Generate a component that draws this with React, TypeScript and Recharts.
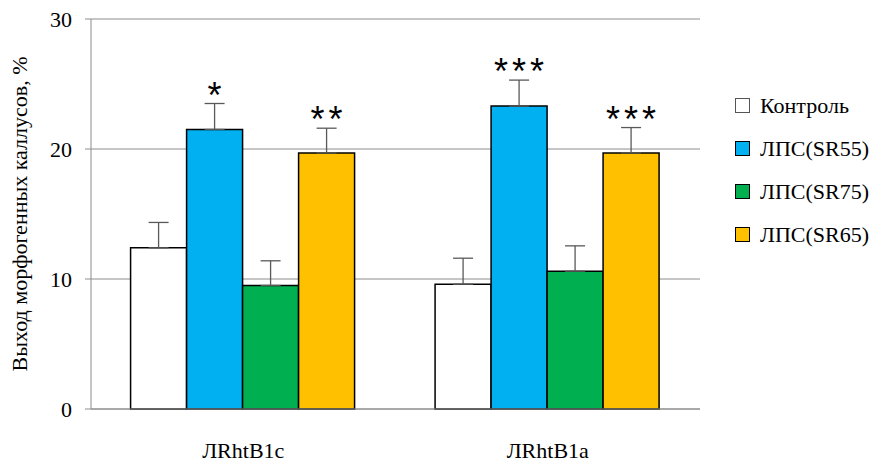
import React from "react";
import { BarChart, Bar, XAxis, YAxis, CartesianGrid, ErrorBar, LabelList, Legend } from "recharts";

const categories = ["ЛRhtB1c", "ЛRhtB1a"];
const seriesNames = ["Контроль", "ЛПС(SR55)", "ЛПС(SR75)", "ЛПС(SR65)"];
const seriesColors = ["#FFFFFF", "#00B0F0", "#00B050", "#FFC000"];
const control = [12.4, 9.6];
const controlErr = [1.95, 2.0];
const sr55 = [21.5, 23.3];
const sr55Err = [2.0, 2.0];
const sr75 = [9.5, 10.6];
const sr75Err = [1.9, 1.95];
const sr65 = [19.7, 19.7];
const sr65Err = [1.9, 1.95];
const sr55Stars = ["*", "***"];
const sr65Stars = ["**", "***"];
const yTicks = [0, 10, 20, 30];

const SERIF = "'Liberation Serif', 'Times New Roman', serif";

const data = categories.map((c, i) => ({
  name: c,
  s0: control[i],
  e0: [0, controlErr[i]],
  s1: sr55[i],
  e1: [0, sr55Err[i]],
  st1: sr55Stars[i],
  s2: sr75[i],
  e2: [0, sr75Err[i]],
  s3: sr65[i],
  e3: [0, sr65Err[i]],
  st3: sr65Stars[i],
}));

const errs = [controlErr, sr55Err, sr75Err, sr65Err];
const vals = [control, sr55, sr75, sr65];

const makeStar = (si: number) => (props: any) => {
  const { x, y, width, height, value, index } = props;
  if (!value) return null;
  const v = vals[si][index];
  const errPx = (height / v) * errs[si][index];
  const cx = x + width / 2;
  const ty = y - errPx + 4;
  return (
    <text
      x={cx + 2}
      y={ty}
      textAnchor="middle"
      fontFamily="'Liberation Sans', Arial, sans-serif"
      fontSize={36}
      letterSpacing={4}
      fill="#000"
    >
      {value}
    </text>
  );
};

const LegendContent = () => (
  <div style={{ fontFamily: SERIF, fontSize: 22, color: "#000", width: 150 }}>
    {seriesNames.map((n, i) => (
      <div key={n} style={{ display: "flex", alignItems: "center", height: 43 }}>
        <div
          style={{
            width: 13,
            height: 13,
            background: seriesColors[i],
            border: i === 0 ? "1.5px solid #555" : "1.5px solid #000",
            marginRight: 10,
            flexShrink: 0,
          }}
        />
        <span style={{ whiteSpace: "nowrap" }}>{n}</span>
      </div>
    ))}
  </div>
);

export default function App() {
  return (
    <div style={{ position: "absolute", left: 0, top: 0, width: 880, height: 462, background: "#fff" }}>
      <BarChart
        width={880}
        height={462}
        data={data}
        margin={{ top: 19, right: 30, bottom: 23, left: 0 }}
        barCategoryGap="13%"
        barGap={0}
      >
        <CartesianGrid vertical={false} stroke="#8c8c8c" strokeWidth={1} />
        <XAxis
          dataKey="name"
          height={30}
          axisLine={{ stroke: "#8c8c8c" }}
          tickLine={false}
          tick={{ fill: "#000", fontSize: 22, fontFamily: SERIF }}
          tickMargin={27}
        />
        <YAxis
          width={91}
          domain={[0, 30]}
          ticks={yTicks}
          interval={0}
          axisLine={{ stroke: "#8c8c8c" }}
          tickLine={{ stroke: "#8c8c8c" }}
          tickSize={6}
          tickMargin={13}
          tick={{ fill: "#000", fontSize: 22, fontFamily: SERIF }}
          label={{
            value: "Выход морфогенных каллусов, %",
            angle: -90,
            position: "insideLeft",
            dx: 14,
            style: { fill: "#000", fontSize: 22, fontFamily: SERIF, textAnchor: "middle" },
          }}
        />
        <Legend
          layout="vertical"
          align="right"
          verticalAlign="middle"
          width={150}
          wrapperStyle={{ left: 735, top: 84 }}
          content={<LegendContent />}
        />
        <Bar dataKey="s0" name={seriesNames[0]} fill={seriesColors[0]} stroke="#000" strokeWidth={1.5} isAnimationActive={false}>
          <ErrorBar dataKey="e0" width={10} stroke="#595959" strokeWidth={1.3} direction="y" />
        </Bar>
        <Bar dataKey="s1" name={seriesNames[1]} fill={seriesColors[1]} stroke="#000" strokeWidth={1.5} isAnimationActive={false}>
          <ErrorBar dataKey="e1" width={10} stroke="#595959" strokeWidth={1.3} direction="y" />
          <LabelList dataKey="st1" content={makeStar(1)} />
        </Bar>
        <Bar dataKey="s2" name={seriesNames[2]} fill={seriesColors[2]} stroke="#000" strokeWidth={1.5} isAnimationActive={false}>
          <ErrorBar dataKey="e2" width={10} stroke="#595959" strokeWidth={1.3} direction="y" />
        </Bar>
        <Bar dataKey="s3" name={seriesNames[3]} fill={seriesColors[3]} stroke="#000" strokeWidth={1.5} isAnimationActive={false}>
          <ErrorBar dataKey="e3" width={10} stroke="#595959" strokeWidth={1.3} direction="y" />
          <LabelList dataKey="st3" content={makeStar(3)} />
        </Bar>
      </BarChart>
    </div>
  );
}
